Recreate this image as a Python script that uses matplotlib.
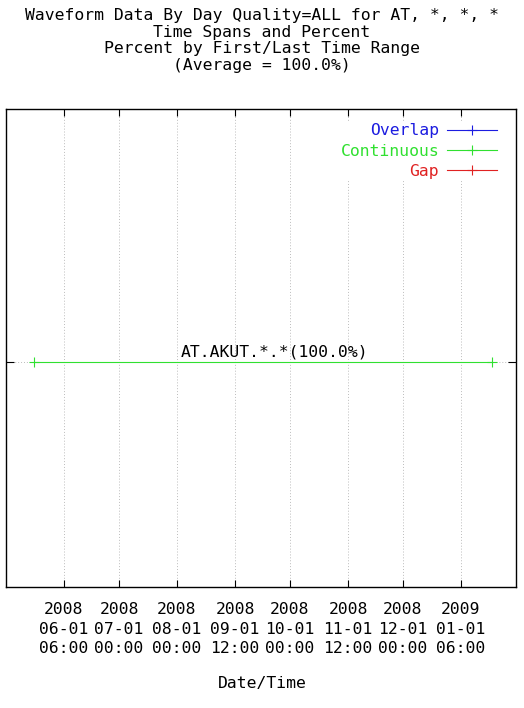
import matplotlib
matplotlib.use("Agg")
import matplotlib.pyplot as plt
import matplotlib.dates as mdates
from matplotlib.lines import Line2D
from matplotlib.transforms import ScaledTranslation

plt.rcParams['font.family'] = ['DejaVu Sans Mono', 'DejaVu Sans']

title_lines = [
    "Waveform Data By Day Quality=ALL for AT, *, *, *",
    "Time Spans and Percent",
    "Percent by First/Last Time Range",
    "(Average = 100.0%)",
]

# continuous span for the single channel
span_start = ["2008-05-16 00:00"]
span_end = ["2009-01-18 00:00"]
span_row = [1]
span_label = ["AT.AKUT.*.*(100.0%)"]
label_at = ["2008-09-23 00:00"]

tick_dates = ["2008-06-01 06:00", "2008-07-01 00:00", "2008-08-01 00:00",
              "2008-09-01 12:00", "2008-10-01 00:00", "2008-11-01 12:00",
              "2008-12-01 00:00", "2009-01-01 06:00"]
tick_labels = ["2008\n06-01\n06:00", "2008\n07-01\n00:00", "2008\n08-01\n00:00",
               "2008\n09-01\n12:00", "2008\n10-01\n00:00", "2008\n11-01\n12:00",
               "2008\n12-01\n00:00", "2009\n01-01\n06:00"]
x_range = ["2008-05-01 00:00", "2009-01-31 00:00"]

legend_names = ["Overlap", "Continuous", "Gap"]
legend_colors = ["#1c1ce0", "#30e030", "#e02222"]

fs = 11.8
W, H = 524, 708
fig = plt.figure(figsize=(W / 100, H / 100), dpi=100)
ax = fig.add_axes([6 / W, 1 - 587 / H, (516 - 6) / W, (587 - 109) / H])

d = mdates.datestr2num
for s, e, r in zip(span_start, span_end, span_row):
    ax.plot([d(s), d(e)], [r, r], color=legend_colors[1], lw=0.8,
            marker='+', ms=7, mew=0.8, zorder=3)
for txt, x, r in zip(span_label, label_at, span_row):
    ax.text(d(x), r, txt, ha='center', va='baseline', fontsize=fs,
            transform=ax.transData + ScaledTranslation(0, 5 / 100, fig.dpi_scale_trans))

ax.set_xlim(d(x_range[0]), d(x_range[1]))
ax.set_ylim(0, 2.12)
ax.set_xticks([d(t) for t in tick_dates])
ax.set_xticklabels(tick_labels, fontsize=fs, linespacing=1.37)
ax.set_yticks(span_row)
ax.set_yticklabels([""] * len(span_row))
ax.tick_params(axis='x', direction='in', length=5, width=0.8, top=True, pad=11)
ax.tick_params(axis='y', direction='in', length=6, width=0.8, right=True)
ax.grid(True, color='#bcbcbc', linestyle=(0, (1, 2)), lw=0.7)
for sp in ax.spines.values():
    sp.set_linewidth(1.0)

handles = [Line2D([], [], color=c, lw=0.8, marker='+', ms=7, mew=0.8) for c in legend_colors]
leg = ax.legend(handles, legend_names, loc='upper right', markerfirst=False,
                bbox_to_anchor=(1 - 3 / 510, 1 + 2 / 478),
                numpoints=1, fontsize=fs, handlelength=3.05, handletextpad=0.45,
                labelspacing=0.33, borderpad=0.1, borderaxespad=0.9,
                frameon=True, fancybox=False)
leg.get_frame().set_edgecolor('none')
leg.get_frame().set_facecolor('white')
leg.get_frame().set_alpha(1)
for t, c in zip(leg.get_texts(), legend_colors):
    t.set_color(c)

fig.text(0.5, 1 - 8 / H, "\n".join(title_lines), ha='center', va='top',
         fontsize=fs, linespacing=1.13)

fig.text(262 / W, 1 - 688 / H, "Date/Time", ha='center', va='baseline', fontsize=fs)

fig.savefig("out.png", dpi=100)
